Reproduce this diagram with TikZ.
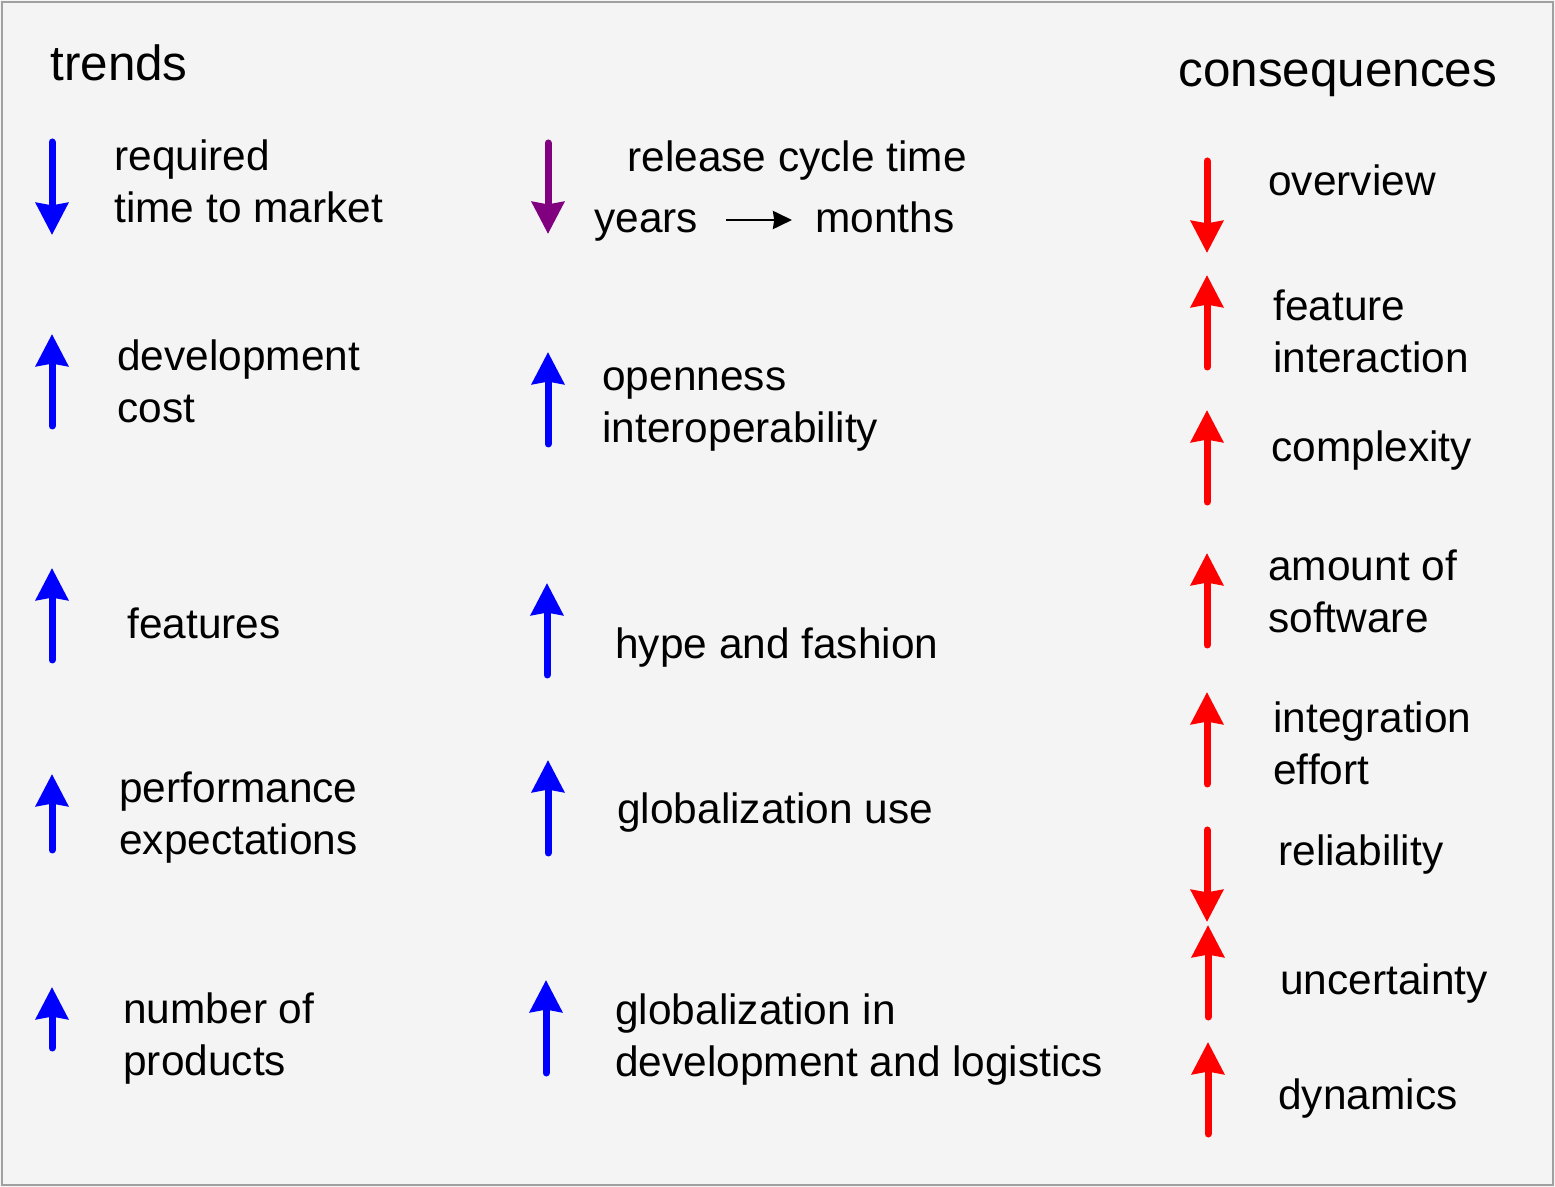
\documentclass[tikz,border=0pt]{standalone}
\usepackage{fontspec}
\setmainfont{Liberation Sans}
\usetikzlibrary{arrows.meta,calc}
\definecolor{bgc}{HTML}{F4F4F4}
\definecolor{framec}{HTML}{A0A0A0}
\definecolor{upblue}{HTML}{0000FF}
\definecolor{relpurple}{HTML}{800080}
\definecolor{conred}{HTML}{FF0000}
\begin{document}
\begin{tikzpicture}[x=0.5pt,y=-0.5pt,
  % multi-line nodes are placed by the baseline of their LAST line
  txt/.style={font=\fontsize{21.2}{26}\selectfont, align=left, anchor=base west, inner sep=0pt, yshift=-1pt},
  heading/.style={font=\fontsize{24.7}{29}\selectfont, anchor=base west, inner sep=0pt, yshift=-0.5pt},
  ind/.style={line width=3.5pt, line cap=round, -{Stealth[length=16pt,width=16pt,inset=1.2pt]}},
  bluearrow/.style={ind, draw=upblue, fill=upblue},
  purplearrow/.style={ind, draw=relpurple, fill=relpurple},
  redarrow/.style={ind, draw=conred, fill=conred},
  smallarrow/.style={line width=1.4pt, -{Stealth[length=9.5pt,width=9pt,inset=0.6pt]}}]
\useasboundingbox (0,0) rectangle (1555,1187);
\fill[bgc] (0,0) rectangle (1555,1187);
\draw[framec, line width=1pt] (2,2) rectangle (1553,1185);

% headings
\node[heading] (trends) at (50,80) {trends};
\node[heading] (cons) at (1178,86) {consequences};

% left column
\coordinate (l1s) at (52,142); \coordinate (l1e) at (52,235);
\draw[bluearrow] (l1s) -- (l1e);
\node[txt] (ttm) at (114,221) {required\\time to market};

\coordinate (l2s) at (52,426); \coordinate (l2e) at (52,334);
\draw[bluearrow] (l2s) -- (l2e);
\node[txt] (dev) at (117,421) {development\\cost};

\coordinate (l3s) at (52,660); \coordinate (l3e) at (52,568);
\draw[bluearrow] (l3s) -- (l3e);
\node[txt] (feat) at (127,637) {features};

\coordinate (l4s) at (52,850); \coordinate (l4e) at (52,774);
\draw[bluearrow] (l4s) -- (l4e);
\node[txt] (perf) at (119,853) {performance\\expectations};

\coordinate (l5s) at (52,1048); \coordinate (l5e) at (52,987);
\draw[bluearrow] (l5s) -- (l5e);
\node[txt] (nprod) at (123,1073) {number of\\products};

% middle column
\coordinate (m1s) at (548,143); \coordinate (m1e) at (548,234);
\draw[purplearrow] (m1s) -- (m1e);
\node[txt] (rct) at (627,170) {release cycle time};
\node[txt] (years) at (594,231) {years};
\node[txt] (months) at (815,231) {months};
\draw[smallarrow] ($(years.base east)+(28,-13)$) -- ($(months.base west)+(-23,-13)$);

\coordinate (m2s) at (548,444); \coordinate (m2e) at (548,352);
\draw[bluearrow] (m2s) -- (m2e);
\node[txt] (open) at (602,441) {openness\\interoperability};

\coordinate (m3s) at (547,675); \coordinate (m3e) at (547,583);
\draw[bluearrow] (m3s) -- (m3e);
\node[txt] (hype) at (615,657) {hype and fashion};

\coordinate (m4s) at (548,853); \coordinate (m4e) at (548,760);
\draw[bluearrow] (m4s) -- (m4e);
\node[txt] (guse) at (617,822) {globalization use};

\coordinate (m5s) at (546,1073); \coordinate (m5e) at (546,980);
\draw[bluearrow] (m5s) -- (m5e);
\node[txt] (gdev) at (615,1074) {globalization in\\development and logistics};

% right column
\coordinate (r1s) at (1207,161); \coordinate (r1e) at (1207,253);
\draw[redarrow] (r1s) -- (r1e);
\node[txt] (over) at (1268,194) {overview};

\coordinate (r2s) at (1207,367); \coordinate (r2e) at (1207,275);
\draw[redarrow] (r2s) -- (r2e);
\node[txt] (fint) at (1273,371) {feature\\interaction};

\coordinate (r3s) at (1207,502); \coordinate (r3e) at (1207,410);
\draw[redarrow] (r3s) -- (r3e);
\node[txt] (cplx) at (1271,460) {complexity};

\coordinate (r4s) at (1207,645); \coordinate (r4e) at (1207,553);
\draw[redarrow] (r4s) -- (r4e);
\node[txt] (amt) at (1268,631) {amount of\\software};

\coordinate (r5s) at (1207,784); \coordinate (r5e) at (1207,692);
\draw[redarrow] (r5s) -- (r5e);
\node[txt] (integ) at (1273,782) {integration\\effort};

\coordinate (r6s) at (1207,830); \coordinate (r6e) at (1207,922);
\draw[redarrow] (r6s) -- (r6e);
\node[txt] (rel) at (1278,863) {reliability};

\coordinate (r7s) at (1208,1017); \coordinate (r7e) at (1208,925);
\draw[redarrow] (r7s) -- (r7e);
\node[txt] (unc) at (1280,992) {uncertainty};

\coordinate (r8s) at (1208,1134); \coordinate (r8e) at (1208,1042);
\draw[redarrow] (r8s) -- (r8e);
\node[txt] (dyn) at (1278,1107) {dynamics};
\end{tikzpicture}
\end{document}
